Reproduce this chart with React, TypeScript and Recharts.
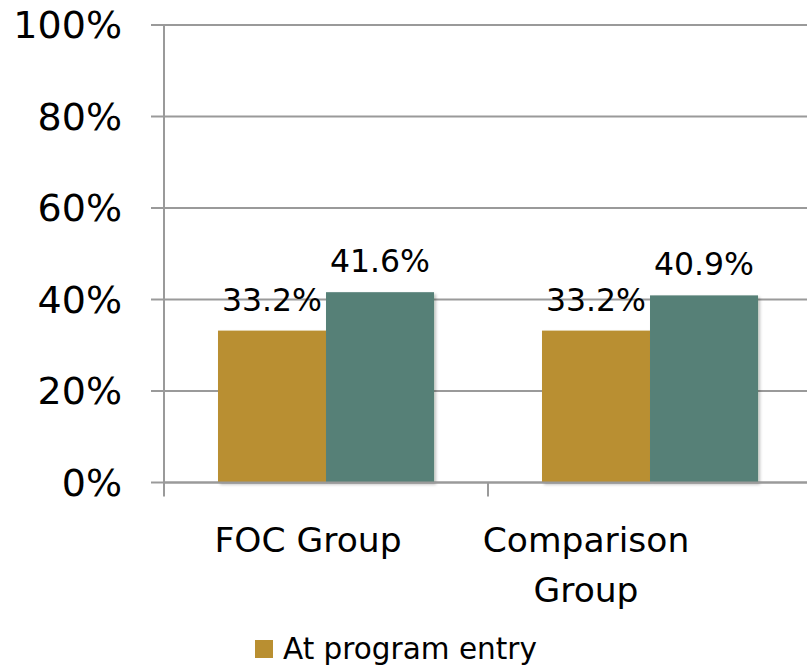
import { Bar, BarChart, CartesianGrid, LabelList, XAxis, YAxis } from "recharts";

const groups = ["FOC Group", "Comparison Group"];
const entryPct = [33.2, 33.2];
const exitPct = [41.6, 40.9];
const yTicks = [0, 20, 40, 60, 80, 100];
const entryLabel = "At program entry";
const exitLabel = "At program exit";

const ENTRY_COLOR = "#B98F31";
const EXIT_COLOR = "#568077";
const GRID = "#9a9a9a";
const INK = "#000";
const FONT = "'DejaVu Sans', sans-serif";

// category labels sit a little left of their band centre
const LABEL_SHIFT = [-18, -64];

const rows = groups.map((group, i) => ({ group, entry: entryPct[i], exit: exitPct[i] }));

function GroupTick(props: any) {
  const { x, y, payload, index } = props;
  const half = payload?.offset ?? 0;
  const text: string = payload?.value ?? "";
  const lines = text.length > 12 ? text.split(" ") : [text];
  const cx = x + (LABEL_SHIFT[index] ?? 0);
  return (
    <g>
      <line x1={x - half} x2={x - half} y1={y} y2={y + 14} stroke={GRID} strokeWidth={2} />
      <text x={cx} y={y + 69} textAnchor="middle" fontSize={34.5} fill={INK} fontFamily={FONT}>
        {lines.map((line, i) => (
          <tspan key={i} x={cx} dy={i === 0 ? 0 : 50}>
            {line}
          </tspan>
        ))}
      </text>
    </g>
  );
}

function ShadowBar(props: any) {
  const { x, y, width, height, fill } = props;
  if (!height || height <= 0) return null;
  return <rect x={x} y={y} width={width} height={height} fill={fill} filter="url(#bar-shadow)" />;
}

export default function App() {
  return (
    <div style={{ position: "absolute", left: 0, top: 0, width: 807, height: 668, overflow: "hidden", fontFamily: FONT }}>
      <BarChart
        width={812}
        height={668}
        data={rows}
        margin={{ top: 25, right: 0, bottom: 0, left: 0 }}
        barCategoryGap="16.67%"
        barGap={0}
      >
        <defs>
          <filter id="bar-shadow" x="-10%" y="-10%" width="130%" height="130%">
            <feDropShadow dx={2} dy={2} stdDeviation={1.5} floodColor="#000" floodOpacity={0.25} />
          </filter>
        </defs>
        <CartesianGrid vertical={false} stroke={GRID} strokeWidth={2} />
        <XAxis
          dataKey="group"
          height={185.5}
          interval={0}
          tickLine={false}
          tickSize={0}
          tickMargin={0}
          axisLine={{ stroke: GRID, strokeWidth: 2 }}
          tick={<GroupTick />}
        />
        <YAxis
          domain={[0, 100]}
          ticks={yTicks}
          interval={0}
          width={164}
          tickSize={13}
          tickMargin={29}
          tickFormatter={(v: number) => `${v}%`}
          axisLine={{ stroke: GRID, strokeWidth: 2 }}
          tickLine={{ stroke: GRID, strokeWidth: 2 }}
          tick={{ fill: INK, fontSize: 38, fontFamily: FONT }}
        />
        <Bar dataKey="entry" name={entryLabel} fill={ENTRY_COLOR} shape={<ShadowBar />} isAnimationActive={false}>
          <LabelList dataKey="entry" position="top" offset={20} formatter={(v: any) => `${v}%`} fill={INK} fontSize={31.5} fontFamily={FONT} />
        </Bar>
        <Bar dataKey="exit" name={exitLabel} fill={EXIT_COLOR} shape={<ShadowBar />} isAnimationActive={false}>
          <LabelList dataKey="exit" position="top" offset={20} formatter={(v: any) => `${v}%`} fill={INK} fontSize={31.5} fontFamily={FONT} />
        </Bar>
      </BarChart>
      <div style={{ position: "absolute", left: 255, top: 634, display: "flex", alignItems: "flex-start", lineHeight: "30px" }}>
        <span style={{ display: "inline-block", width: 18, height: 18, background: ENTRY_COLOR, marginTop: 6 }} />
        <span style={{ marginLeft: 10, fontSize: 29.5, color: INK, whiteSpace: "nowrap" }}>{entryLabel}</span>
      </div>
    </div>
  );
}
